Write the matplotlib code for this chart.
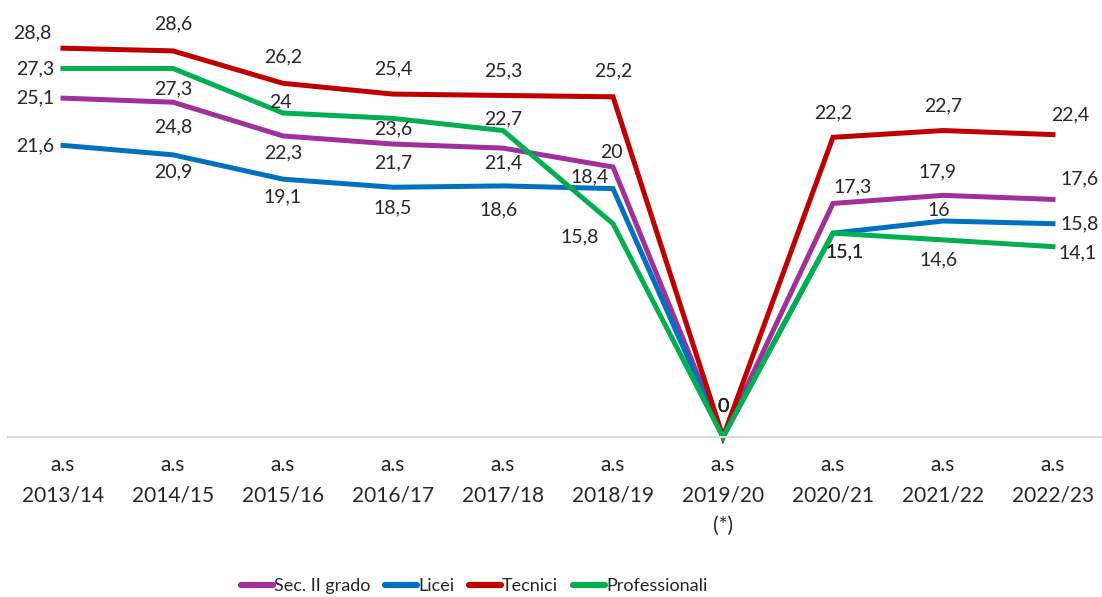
import numpy as np
import matplotlib
matplotlib.use('Agg')
import matplotlib.pyplot as plt

plt.rcParams['font.family'] = ['Lato', 'DejaVu Sans']

years = ['a.s\n2013/14', 'a.s\n2014/15', 'a.s\n2015/16', 'a.s\n2016/17', 'a.s\n2017/18',
         'a.s\n2018/19', 'a.s\n2019/20\n(*)', 'a.s\n2020/21', 'a.s\n2021/22', 'a.s\n2022/23']

sec_ii = [25.1, 24.8, 22.3, 21.7, 21.4, 20, 0, 17.3, 17.9, 17.6]
licei = [21.6, 20.9, 19.1, 18.5, 18.6, 18.4, 0, 15.1, 16, 15.8]
tecnici = [28.8, 28.6, 26.2, 25.4, 25.3, 25.2, 0, 22.2, 22.7, 22.4]
professionali = [27.3, 27.3, 24, 23.6, 22.7, 15.8, 0, 15.1, 14.6, 14.1]

# label offsets in pixels (dx, dy), as placed in the original
off_sec = [(-28, 0), (0, -25), (0, -17), (0, -19), (0, -15), (-2, 15), (0, 30), (20, 17), (-5, 23), (27, 21)]
off_lic = [(-28, 0), (0, -17), (0, -18), (0, -21), (-4, -24), (-23, 12), (0, 30), (12, -19), (-4, 11), (27, 0)]
off_tec = [(-31, 15), (0, 27), (0, 26), (0, 25), (0, 25), (0, 26), (0, 30), (0, 24), (0, 25), (17, 20)]
off_pro = [(-28, 0), (0, -20), (-3, 11), (0, -10), (0, 12), (-33, -13), (0, 30), (12, -19), (-4, -20), (25, -6)]

series = [
    ('Sec. II grado', sec_ii, '#A0309A', off_sec),
    ('Licei', licei, '#0070C0', off_lic),
    ('Tecnici', tecnici, '#C00000', off_tec),
    ('Professionali', professionali, '#00B050', off_pro),
]

fig = plt.figure(figsize=(11.02, 5.97), dpi=100)
ax = fig.add_axes([8 / 1102, (597 - 437) / 597, 1100 / 1102, 437 / 597])

x = np.arange(len(years))
for name, vals, col, offs in series:
    ax.plot(x, vals, color=col, lw=3.6, label=name, clip_on=False, solid_joinstyle='miter')
    for xi, v, (dx, dy) in zip(x, vals, offs):
        ax.annotate(f'{v:g}'.replace('.', ','), (xi, v), xytext=(dx, dy),
                    textcoords='offset pixels', ha='center', va='center',
                    fontsize=14, color='#262626')

ax.set_xlim(-0.5, 9.5)
ax.set_ylim(0, 437 / 13.5)
for s in ['top', 'right', 'left']:
    ax.spines[s].set_visible(False)
ax.spines['bottom'].set_color('#D9D9D9')
ax.spines['bottom'].set_linewidth(1.5)
ax.set_yticks([])
ax.set_xticks(x)
ax.set_xticklabels(years, fontsize=15, color='#262626', linespacing=1.65)
ax.tick_params(axis='x', length=0, pad=13)

leg = fig.legend(loc='center', bbox_to_anchor=(474 / 1102, 1 - 586 / 597), ncol=4,
                 frameon=False, fontsize=13, handlelength=1.8, handletextpad=0.05,
                 columnspacing=0.8, labelcolor='#262626')
for h in leg.get_lines():
    h.set_linewidth(4.5)
    h.set_solid_capstyle('round')

plt.savefig('out.png', dpi=100)
